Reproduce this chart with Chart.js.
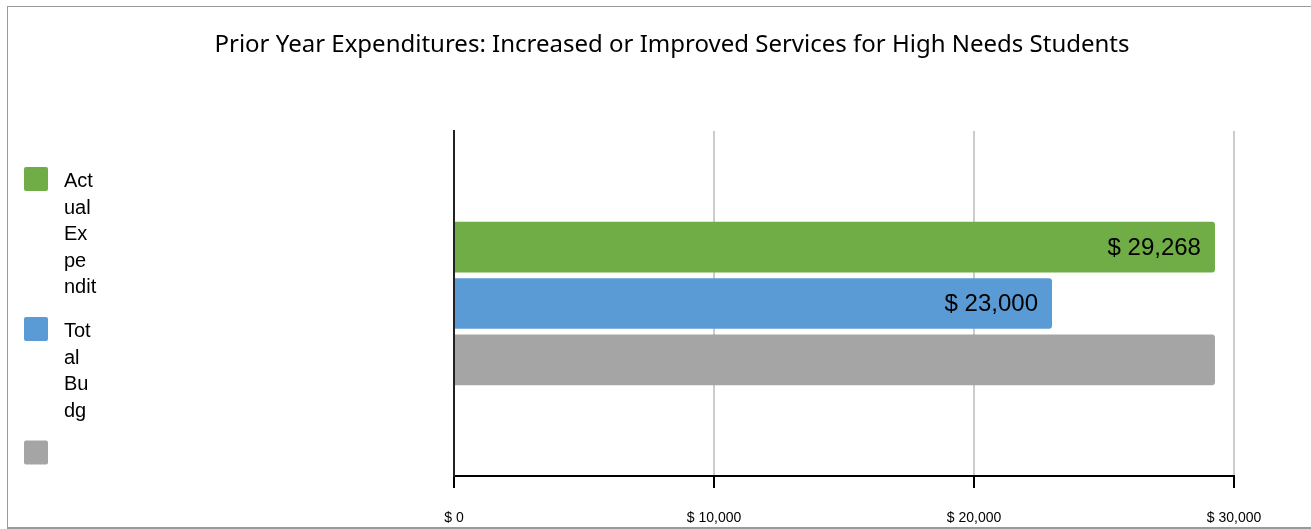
<!DOCTYPE html>
<html>
<head>
<meta charset="utf-8">
<script src="https://cdn.jsdelivr.net/npm/chart.js@4/dist/chart.umd.min.js"></script>
<style>
  html, body { margin: 0; padding: 0; background: #fff; overflow: hidden; }
  #wrap { position: relative; width: 1311px; height: 529px; }
  #frame {
    position: absolute; left: 7px; top: 6px; width: 1320px; height: 520px;
    border-left: 1px solid #999; border-top: 1px solid #999; border-bottom: 2px solid #999;
  }
  canvas { position: absolute; left: 0; top: 0; }
</style>
</head>
<body>
<div id="wrap">
  <div id="frame"></div>
  <canvas id="c" width="1311" height="529"></canvas>
</div>
<script>
  const chartTitle = 'Prior Year Expenditures: Increased or Improved Services for High Needs Students';
  const categories = [''];
  const seriesNames = ['Actual Expendit', 'Total Budg', ''];
  // the legend text is cut and wrapped like this in the original
  const legendLines = [
    ['Act', 'ual', 'Ex', 'pe', 'ndit'],
    ['Tot', 'al', 'Bu', 'dg'],
    [],
  ];
  const actualValues = [29268];
  const budgetValues = [23000];
  const otherValues = [29268];
  const tickValues = [0, 10000, 20000, 30000];
  const colors = ['#70AD47', '#5B9BD5', '#A5A5A5'];

  const money = v => '$ ' + Number(v).toLocaleString('en-US');

  // title centred on the whole canvas, not just the plot
  const pageTitle = {
    id: 'pageTitle',
    afterDraw(chart) {
      const ctx = chart.ctx;
      ctx.save();
      ctx.font = '24px "Noto Sans", sans-serif';
      ctx.fillStyle = '#000';
      ctx.textAlign = 'center';
      ctx.textBaseline = 'middle';
      ctx.fillText(chartTitle, 672, 45);
      ctx.restore();
    }
  };

  const valueLabels = {
    id: 'valueLabels',
    afterDatasetsDraw(chart) {
      const ctx = chart.ctx;
      ctx.save();
      ctx.font = '24px "Liberation Sans", Arial, sans-serif';
      ctx.fillStyle = '#000';
      ctx.textAlign = 'right';
      ctx.textBaseline = 'middle';
      chart.data.datasets.forEach((ds, i) => {
        if (!ds.label) return;
        chart.getDatasetMeta(i).data.forEach((bar, j) => {
          ctx.fillText(money(ds.data[j]), bar.x - 14, bar.y + 1);
        });
      });
      ctx.restore();
    }
  };

  const sideLegend = {
    id: 'sideLegend',
    afterDraw(chart) {
      const ctx = chart.ctx;
      const lineH = 26.5;
      let top = 167;
      ctx.save();
      ctx.font = '20px "Liberation Sans", Arial, sans-serif';
      ctx.textBaseline = 'alphabetic';
      chart.data.datasets.forEach((ds, i) => {
        ctx.fillStyle = ds.backgroundColor;
        ctx.beginPath();
        ctx.roundRect(24, top, 24, 24, 2);
        ctx.fill();
        ctx.fillStyle = '#000';
        const lines = legendLines[i] || [];
        lines.forEach((t, k) => ctx.fillText(t, 64, top + 20 + k * lineH));
        top += Math.max(lines.length, 1) * lineH + 17.5;
      });
      ctx.restore();
    }
  };

  const seriesData = [actualValues, budgetValues, otherValues];

  new Chart(document.getElementById('c'), {
    type: 'bar',
    data: {
      labels: categories,
      datasets: seriesNames.map((name, i) => ({
        label: name,
        data: seriesData[i],
        backgroundColor: colors[i],
        borderRadius: 3,
        borderSkipped: 'start',
        categoryPercentage: 0.49,
        barPercentage: 0.9,
      })),
    },
    options: {
      indexAxis: 'y',
      responsive: false,
      animation: false,
      devicePixelRatio: 1,
      layout: { padding: { left: 454, right: 77, top: 131, bottom: 0 } },
      plugins: {
        legend: { display: false },
        tooltip: { enabled: false },
        title: { display: false },
      },
      scales: {
        x: {
          min: 0,
          max: 30000,
          afterBuildTicks: axis => { axis.ticks = tickValues.map(v => ({ value: v })); },
          afterFit: axis => { axis.height = 53; },
          ticks: {
            callback: v => money(v),
            color: '#000',
            padding: 22,
            maxRotation: 0,
            font: { family: '"Liberation Sans", Arial, sans-serif', size: 14 },
          },
          grid: { color: '#cccccc', lineWidth: 2, tickColor: '#000', tickLength: 12, tickWidth: 2 },
          border: { display: true, color: '#000', width: 2 },
        },
        y: {
          afterFit: axis => { axis.width = 0; },
          ticks: { display: false },
          grid: { display: false },
          border: { display: true, color: '#222', width: 2 },
        },
      },
    },
    plugins: [pageTitle, valueLabels, sideLegend],
  });
</script>
</body>
</html>
